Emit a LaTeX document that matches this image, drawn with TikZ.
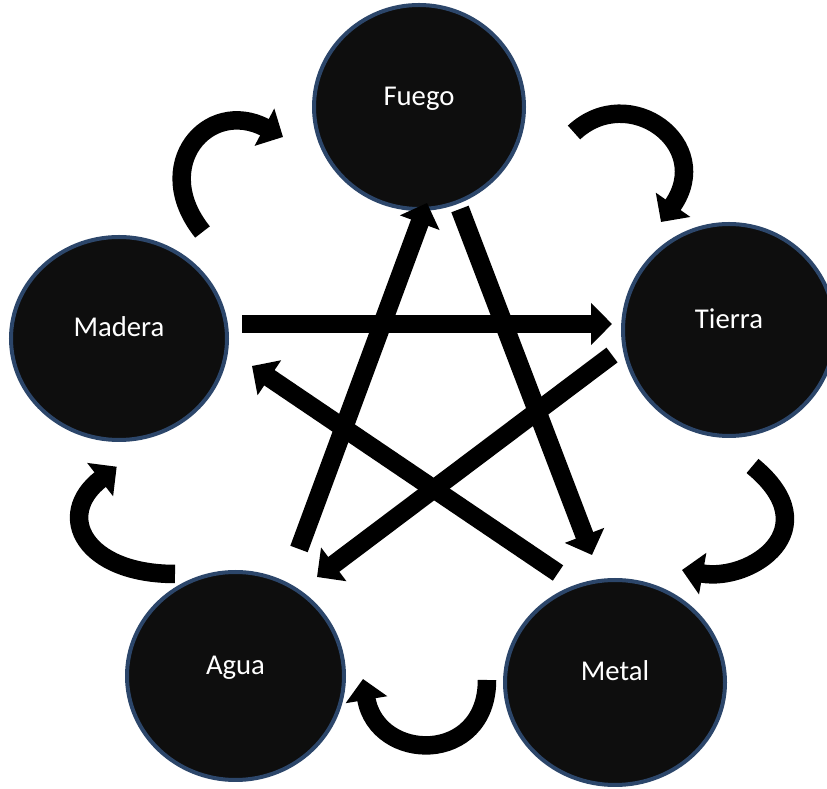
\documentclass[tikz,border=0pt]{standalone}
\usepackage{fontspec}
\setmainfont{Carlito}
\usetikzlibrary{arrows.meta,calc,shapes.geometric}
\definecolor{ringblue}{RGB}{44,70,106}
\definecolor{inkfill}{RGB}{14,14,14}
\begin{document}
\begin{tikzpicture}[
	x=1pt, y=1pt,
	element/.style={ ellipse, draw=ringblue, line width=4pt, fill=inkfill, text=white, inner sep=0pt, outer sep=0pt, font=\fontsize{28.7}{34}\selectfont, text height=14pt, text depth=17.6pt },
	flow/.style={ line width=18.5pt, -{Triangle[length=21pt,width=41pt]} }
]
	\useasboundingbox (0,0) rectangle (827,789);
	\node at (419,682) (fuego) [element, minimum width=210pt, minimum height=204pt] {Fuego};
	\node at (729,459) (tierra) [element, minimum width=212pt, minimum height=212pt] {Tierra};
	\node at (119,450.5) (madera) [element, minimum width=216pt, minimum height=203pt] {Madera};
	\node at (235.5,113) (agua) [element, minimum width=217pt, minimum height=208pt] {Agua};
	\node at (615,106.5) (metal) [element, minimum width=220pt, minimum height=205pt] {Metal};
	\draw[flow] ($(madera)+(123,14.5)$) -- ($(tierra)+(-117,6)$);
	\draw[flow] ($(tierra)+(-117,-25)$) -- ($(agua)+(81.5,99)$);
	\draw[flow] ($(agua)+(63.5,127)$) -- ($(fuego)+(8,-96)$);
	\draw[flow] ($(fuego)+(41,-102)$) -- ($(metal)+(-23,127.5)$);
	\draw[flow] ($(metal)+(-57,109.5)$) -- ($(madera)+(133,-27.5)$);
	\draw[flow] ($(madera)+(83.5,106.5)$) .. controls +(128.7:85) and +(152.2:85) .. ($(fuego)+(-136,-30)$);
	\draw[flow] ($(fuego)+(155,-25.5)$) .. controls +(43:75) and +(54.9:95) .. ($(tierra)+(-68,108)$);
	\draw[flow] ($(tierra)+(23.5,-136)$) .. controls +(-39.3:100) and +(-10:70) .. ($(metal)+(67,112.5)$);
	\draw[flow] ($(metal)+(-128,2.5)$) .. controls +(-90:85) and +(-80.5:85) .. ($(agua)+(127.5,-3)$);
	\draw[flow] ($(agua)+(-60.5,102)$) .. controls +(180:90) and +(217.9:80) .. ($(madera)+(-2.3,-128.2)$);
\end{tikzpicture}
\end{document}
